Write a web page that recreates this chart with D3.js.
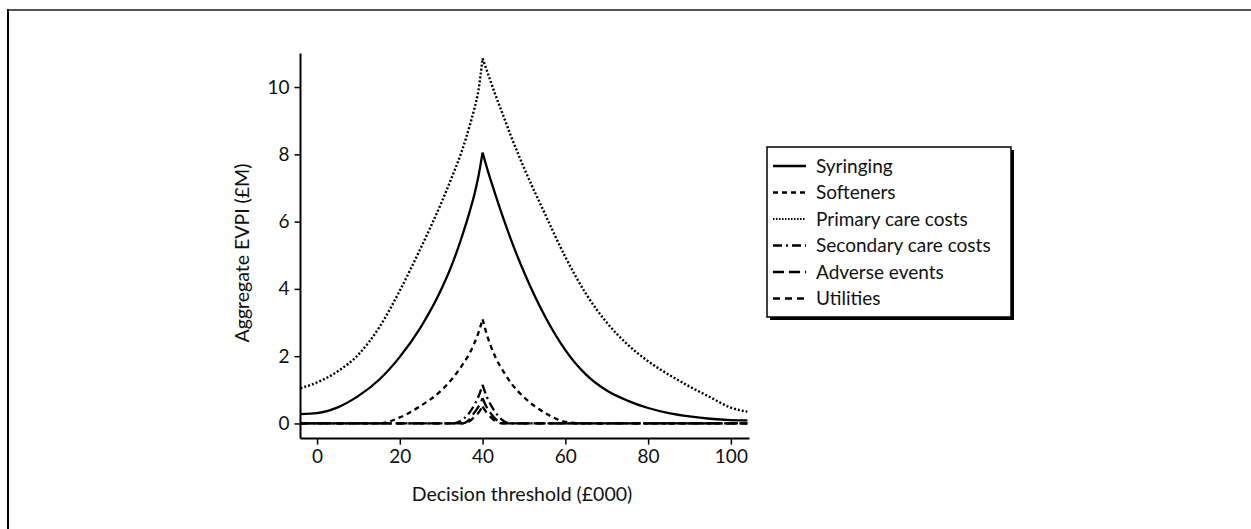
<!DOCTYPE html>
<html>
<head>
<meta charset="utf-8">
<script src="https://cdn.jsdelivr.net/npm/d3@7"></script>
<style>
  html, body { margin: 0; padding: 0; background: #fff; }
  svg { display: block; }
  text { font-family: Lato, "Open Sans", sans-serif; fill: #111; }
</style>
</head>
<body>
<svg id="chart" width="1251" height="529"></svg>
<script>
// ---- data ----
const thresholds = [-4, 0, 5, 10, 15, 20, 25, 30, 33, 35, 37, 38, 39, 40, 41, 42, 43, 45, 47, 50, 55, 60, 65, 70, 75, 80, 85, 90, 95, 100, 104];
const syringing     = [0.28, 0.31, 0.48, 0.82, 1.3, 1.98, 2.85, 3.98, 4.85, 5.55, 6.35, 6.8, 7.35, 8.05, 7.62, 7.22, 6.84, 6.1, 5.42, 4.5, 3.2, 2.18, 1.45, 0.98, 0.68, 0.46, 0.31, 0.21, 0.14, 0.1, 0.09];
const softeners     = [0, 0, 0, 0, 0, 0.18, 0.52, 0.98, 1.38, 1.72, 2.12, 2.38, 2.7, 3.1, 2.65, 2.3, 2.0, 1.55, 1.18, 0.78, 0.32, 0.05, 0, 0, 0, 0, 0, 0, 0, 0, 0];
const primaryCare   = [1.05, 1.22, 1.55, 2.05, 2.85, 3.95, 5.2, 6.55, 7.45, 8.1, 8.9, 9.35, 9.9, 10.85, 10.5, 10.15, 9.8, 9.15, 8.5, 7.6, 6.25, 4.95, 3.85, 3.0, 2.35, 1.85, 1.45, 1.1, 0.78, 0.47, 0.35];
const secondaryCare = [0, 0, 0, 0, 0, 0, 0, 0, 0, 0.1, 0.35, 0.55, 0.8, 1.15, 0.8, 0.55, 0.35, 0.08, 0, 0, 0, 0, 0, 0, 0, 0, 0, 0, 0, 0, 0];
const adverseEvents = [0, 0, 0, 0, 0, 0, 0, 0, 0, 0, 0.15, 0.32, 0.5, 0.75, 0.48, 0.3, 0.15, 0, 0, 0, 0, 0, 0, 0, 0, 0, 0, 0, 0, 0, 0];
const utilities     = [0, 0, 0, 0, 0, 0, 0, 0, 0, 0, 0.08, 0.2, 0.32, 0.5, 0.32, 0.18, 0.08, 0, 0, 0, 0, 0, 0, 0, 0, 0, 0, 0, 0, 0, 0];
const seriesNames = ["Syringing", "Softeners", "Primary care costs", "Secondary care costs", "Adverse events", "Utilities"];
const xTicks = [0, 20, 40, 60, 80, 100];
const yTicks = [0, 2, 4, 6, 8, 10];
const xTitle = "Decision threshold (£000)";
const yTitle = "Aggregate EVPI (£M)";

// ---- styles ----
const dashes = [null, "5,4", "2,2", "9,4,2,4", "11,5", "7,5"];
const values = [syringing, softeners, primaryCare, secondaryCare, adverseEvents, utilities];

const svg = d3.select("#chart");

// frame
svg.append("line").attr("x1", 7).attr("x2", 1251).attr("y1", 10).attr("y2", 10)
  .attr("stroke", "#555").attr("stroke-width", 2);
svg.append("line").attr("x1", 8).attr("x2", 8).attr("y1", 9).attr("y2", 529)
  .attr("stroke", "#000").attr("stroke-width", 2);

const x = d3.scaleLinear().domain([-4, 104.5]).range([300.5, 749.5]);
const y = d3.scaleLinear().domain([-0.45, 11]).range([438.6, 53.4]);

// axes
const gx = svg.append("g").attr("transform", `translate(0,${y.range()[0]})`)
  .call(d3.axisBottom(x).tickValues(xTicks).tickSize(6).tickPadding(5).tickFormat(d3.format("d")));
const gy = svg.append("g").attr("transform", `translate(${x.range()[0]},0)`)
  .call(d3.axisLeft(y).tickValues(yTicks).tickSize(6).tickPadding(5).tickFormat(d3.format("d")));
[gx, gy].forEach(g => {
  g.select(".domain").attr("stroke", "#000").attr("stroke-width", 2);
  g.selectAll(".tick line").attr("stroke", "#000").attr("stroke-width", 1.5);
  g.selectAll(".tick text").style("font-family", "Lato, sans-serif").style("font-size", "19px").attr("fill", "#111");
});
gx.select(".domain").attr("d", `M${x.range()[0]},0H${x.range()[1]}`);
gy.select(".domain").attr("d", `M0,${y.range()[1]}V${y.range()[0]}`);

// axis titles
svg.append("text").attr("x", 522).attr("y", 501).attr("text-anchor", "middle")
  .style("font-size", "19.5px").text(xTitle);
svg.append("text").attr("transform", "translate(249,253) rotate(-90)").attr("text-anchor", "middle")
  .style("font-size", "19.5px").text(yTitle);

// series: draw each as left and right monotone branches so the peak stays sharp
const line = d3.line().x(d => x(d[0])).y(d => y(d[1])).curve(d3.curveMonotoneX);
const plot = svg.append("g");
values.forEach((vals, i) => {
  const pts = thresholds.map((t, k) => [t, vals[k]]);
  const peakIdx = d3.maxIndex(vals);
  const branches = [pts.slice(0, peakIdx + 1), pts.slice(peakIdx)];
  branches.forEach(b => {
    plot.append("path").datum(b).attr("d", line)
      .attr("fill", "none").attr("stroke", "#000")
      .attr("stroke-width", i === 2 ? 2.4 : 2.3)
      .attr("stroke-dasharray", dashes[i]);
  });
});

// legend
const lg = svg.append("g");
const lx = 767, ly = 147, lw = 244, lh = 170;
lg.append("rect").attr("x", lx + 3).attr("y", ly + 3).attr("width", lw).attr("height", lh).attr("fill", "#000");
lg.append("rect").attr("x", lx).attr("y", ly).attr("width", lw).attr("height", lh)
  .attr("fill", "#fff").attr("stroke", "#000").attr("stroke-width", 1.5);
seriesNames.forEach((name, i) => {
  const cy = 166 + i * 26.5;
  lg.append("line").attr("x1", lx + 6).attr("x2", lx + 39).attr("y1", cy).attr("y2", cy)
    .attr("stroke", "#000").attr("stroke-width", i === 2 ? 1.8 : 2.3).attr("stroke-dasharray", i === 2 ? "1.5,1.5" : dashes[i]);
  lg.append("text").attr("x", 816).attr("y", cy).attr("dy", "0.35em")
    .style("font-size", "19px").text(name);
});
</script>
</body>
</html>
